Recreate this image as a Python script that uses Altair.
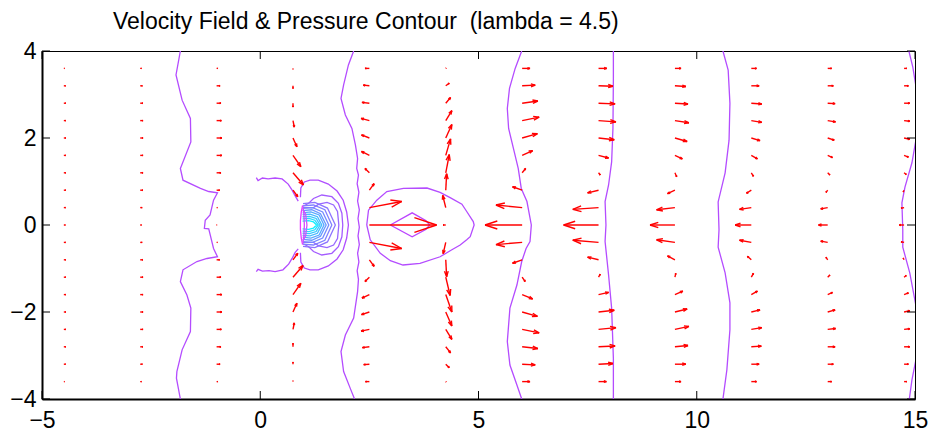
import altair as alt
import pandas as pd

title_text = "Velocity Field & Pressure Contour\u00a0 (lambda = 4.5)"

x_ticks = [-5, 0, 5, 10, 15]
y_ticks = [-4, -2, 0, 2, 4]

# quiver grid
x_cols = [-4.5, -2.75, -1.0, 0.75, 2.5, 4.25, 6.0, 7.75, 9.5, 11.25, 13.0, 14.75]
y_rows = [3.6, 3.2, 2.8, 2.4, 2.0, 1.6, 1.2, 0.8, 0.4, 0.0,
          -0.4, -0.8, -1.2, -1.6, -2.0, -2.4, -2.8, -3.2, -3.6]

u_c01 = [0.02, 0.04, 0.045, 0.045, 0.045, 0.045, 0.045, 0.045, 0.04, 0.035, 0.04, 0.045, 0.045, 0.045, 0.045, 0.045, 0.045, 0.04, 0.02]
v_c01 = [0.0] * 19
u_c02 = [0.03, 0.05, 0.06, 0.065, 0.065, 0.065, 0.065, 0.06, 0.045, 0.03, 0.045, 0.06, 0.065, 0.065, 0.065, 0.065, 0.06, 0.05, 0.03]
v_c02 = [0.0] * 19
u_c03 = [0.03, 0.08, 0.10, 0.11, 0.12, 0.12, 0.10, 0.07, 0.02, 0.01, 0.02, 0.07, 0.10, 0.12, 0.12, 0.11, 0.10, 0.08, 0.03]
v_c03 = [0.0] * 19
u_c04 = [0.0, 0.0, 0.0, 0.03, 0.09, 0.18, 0.24, 0.11, None, None, None, 0.11, 0.23, 0.18, 0.09, 0.03, 0.0, 0.0, 0.0]
v_c04 = [-0.02, -0.06, -0.09, -0.15, -0.20, -0.26, -0.28, -0.15, None, None, None, 0.15, 0.27, 0.26, 0.20, 0.15, 0.08, 0.05, 0.02]
u_c05 = [-0.10, -0.14, -0.17, -0.19, -0.18, -0.18, -0.10, 0.11, 0.74, 1.54, 0.74, 0.11, -0.10, -0.17, -0.18, -0.19, -0.16, -0.13, -0.09]
v_c05 = [0.0, 0.015, 0.02, 0.05, 0.07, 0.09, 0.10, 0.15, 0.14, 0.0, -0.14, -0.15, -0.10, -0.08, -0.06, -0.04, -0.02, -0.01, 0.0]
u_c06 = [0.01, 0.08, 0.11, 0.14, 0.14, 0.11, 0.08, 0.02, -0.07, -0.06, -0.06, 0.02, 0.10, 0.14, 0.14, 0.14, 0.11, 0.08, 0.01]
v_c06 = [0.01, 0.06, 0.13, 0.23, 0.31, 0.38, 0.42, 0.38, 0.28, 0.0, -0.26, -0.39, -0.42, -0.40, -0.32, -0.23, -0.14, -0.08, -0.01]
u_c07 = [0.18, 0.30, 0.36, 0.39, 0.35, 0.24, 0.08, -0.22, -0.60, -0.85, -0.60, -0.22, 0.07, 0.24, 0.35, 0.39, 0.36, 0.30, 0.18]
v_c07 = [0.0, 0.015, 0.05, 0.08, 0.10, 0.11, 0.10, 0.08, 0.06, 0.0, -0.05, -0.08, -0.10, -0.10, -0.10, -0.08, -0.04, -0.015, 0.0]
u_c08 = [0.19, 0.33, 0.38, 0.40, 0.36, 0.23, 0.04, -0.25, -0.59, -0.80, -0.59, -0.25, 0.04, 0.23, 0.36, 0.40, 0.38, 0.33, 0.18]
v_c08 = [0.0, -0.01, -0.015, -0.03, -0.04, -0.06, -0.05, -0.06, -0.04, 0.0, 0.05, 0.06, 0.07, 0.05, 0.04, 0.04, 0.02, 0.015, 0.0]
u_c09 = [0.14, 0.25, 0.30, 0.32, 0.28, 0.17, 0.04, -0.17, -0.42, -0.57, -0.42, -0.17, 0.02, 0.18, 0.28, 0.32, 0.30, 0.25, 0.14]
v_c09 = [0.0, -0.015, -0.02, -0.05, -0.08, -0.08, -0.09, -0.08, -0.05, 0.0, 0.06, 0.09, 0.09, 0.08, 0.07, 0.07, 0.03, 0.0, 0.0]
u_c10 = [0.12, 0.18, 0.24, 0.24, 0.20, 0.14, 0.05, -0.11, -0.27, -0.37, -0.27, -0.09, 0.05, 0.14, 0.20, 0.24, 0.23, 0.18, 0.12]
v_c10 = [0.0, 0.0, -0.02, -0.04, -0.06, -0.08, -0.08, -0.07, -0.04, 0.0, 0.05, 0.08, 0.09, 0.08, 0.05, 0.04, 0.015, 0.0, 0.0]
u_c11 = [0.09, 0.13, 0.17, 0.18, 0.15, 0.11, 0.05, -0.04, -0.16, -0.21, -0.16, -0.04, 0.05, 0.11, 0.17, 0.18, 0.17, 0.13, 0.09]
v_c11 = [0.0, 0.0, -0.01, -0.03, -0.05, -0.05, -0.05, -0.05, -0.03, 0.0, 0.03, 0.06, 0.05, 0.05, 0.05, 0.02, 0.0, 0.0, 0.0]
u_c12 = [0.06, 0.10, 0.13, 0.13, 0.13, 0.10, 0.05, -0.02, -0.07, -0.11, -0.07, -0.02, 0.05, 0.10, 0.13, 0.13, 0.13, 0.10, 0.06]
v_c12 = [0.0, 0.0, 0.0, -0.015, -0.03, -0.04, -0.04, -0.04, -0.015, 0.0, 0.015, 0.04, 0.04, 0.04, 0.03, 0.015, 0.0, 0.0, 0.0]

u_cols = [u_c01, u_c02, u_c03, u_c04, u_c05, u_c06, u_c07, u_c08, u_c09, u_c10, u_c11, u_c12]
v_cols = [v_c01, v_c02, v_c03, v_c04, v_c05, v_c06, v_c07, v_c08, v_c09, v_c10, v_c11, v_c12]

# pressure contour lines (x, y)
ct_a = [(-1.83, 4.0), (-1.93, 3.45), (-1.79, 2.87), (-1.60, 2.45), (-1.59, 1.91), (-1.83, 1.30), (-1.77, 1.03),
        (-1.37, 0.84), (-1.18, 0.77), (-0.98, 0.74), (-1.07, 0.57), (-1.15, 0.23), (-1.26, 0.11), (-1.28, -0.08),
        (-1.18, -0.09), (-1.07, -0.54), (-0.98, -0.73), (-1.22, -0.77), (-1.45, -0.84), (-1.77, -1.03), (-1.83, -1.30),
        (-1.68, -1.61), (-1.59, -1.91), (-1.60, -2.45), (-1.79, -2.87), (-1.91, -3.37), (-1.92, -3.52), (-1.83, -4.0)]
ct_b = [(2.14, 4.0), (2.02, 3.68), (1.91, 3.22), (1.85, 2.91), (1.95, 2.53), (2.10, 2.22), (2.18, 1.84), (2.23, 1.53),
        (2.21, 1.30), (2.25, 1.15), (2.22, 0.95), (2.26, 0.75), (2.23, 0.55), (2.27, 0.35), (2.24, 0.15), (2.27, -0.05),
        (2.24, -0.25), (2.27, -0.45), (2.23, -0.65), (2.26, -0.85), (2.22, -1.05), (2.25, -1.25), (2.23, -1.53),
        (2.14, -2.14), (1.95, -2.53), (1.85, -2.91), (1.91, -3.37), (2.06, -3.75), (2.16, -4.0)]
ct_c = [(5.99, 4.0), (5.84, 3.60), (5.71, 3.14), (5.66, 2.68), (5.69, 2.22), (5.80, 1.76), (5.91, 1.30), (5.98, 0.84),
        (6.11, 0.54), (6.21, 0.0), (6.18, -0.38), (6.09, -0.54), (5.99, -0.84), (5.88, -1.38), (5.72, -1.91),
        (5.66, -2.68), (5.72, -3.22), (5.88, -3.68), (5.99, -4.0)]
ct_d = [(8.09, 4.0), (8.09, 3.37), (8.08, 2.22), (8.05, 1.45), (7.98, 0.92), (7.90, 0.54), (7.92, 0.0),
        (7.90, -0.38), (7.98, -1.15), (8.05, -1.91), (8.09, -3.06), (8.09, -4.0)]
ct_e = [(10.60, 4.0), (10.72, 3.56), (10.76, 2.80), (10.74, 1.95), (10.65, 1.20), (10.49, 0.53), (10.51, -0.11),
        (10.49, -0.51), (10.65, -1.10), (10.76, -1.79), (10.76, -2.41), (10.69, -3.33), (10.60, -4.0)]
ct_f1 = [(14.86, 4.0), (14.95, 3.63), (15.02, 3.2)]
ct_f2 = [(15.02, 1.95), (14.93, 1.43), (14.77, 0.87), (14.70, 0.51), (14.72, -0.11), (14.72, -0.51), (14.88, -1.10), (15.02, -1.85)]
ct_f3 = [(15.02, -3.1), (14.93, -3.56), (14.87, -4.0)]
ct_hook_top = [(-0.09, 1.09), (-0.05, 1.02), (0.05, 1.08), (0.18, 1.06), (0.34, 1.08), (0.50, 1.06), (0.64, 0.94),
               (0.73, 0.80), (0.80, 0.67), (0.87, 0.55)]
ct_hook_bot = [(-0.09, -1.07), (-0.05, -1.02), (0.05, -1.06), (0.20, -1.05), (0.34, -1.07), (0.52, -1.03), (0.65, -0.90),
               (0.74, -0.75), (0.80, -0.63), (0.87, -0.55)]
ct_ring1 = [(0.92, 0.64), (0.93, 0.85), (1.01, 0.99), (1.14, 1.03), (1.33, 1.03), (1.56, 0.94), (1.76, 0.78), (1.90, 0.57),
            (1.98, 0.30), (2.02, 0.0), (1.98, -0.30), (1.90, -0.57), (1.76, -0.78), (1.56, -0.94), (1.33, -1.03),
            (1.14, -1.03), (1.01, -0.99), (0.93, -0.85), (0.92, -0.64)]
ct_ring2 = [(0.98, 0.43), (1.11, 0.50), (1.22, 0.61), (1.41, 0.69), (1.64, 0.65), (1.79, 0.50), (1.87, 0.27), (1.89, 0.0),
            (1.87, -0.27), (1.79, -0.50), (1.64, -0.65), (1.41, -0.69), (1.22, -0.61), (1.11, -0.50), (0.98, -0.43)]
ct_ring3 = [(0.98, 0.40), (1.22, 0.40), (1.34, 0.48), (1.53, 0.52), (1.68, 0.46), (1.77, 0.31), (1.80, 0.0),
            (1.77, -0.31), (1.68, -0.46), (1.53, -0.52), (1.34, -0.48), (1.22, -0.40), (0.98, -0.40)]
ct_k1 = [(0.98, 0.49), (1.25, 0.52), (1.54, 0.39), (1.72, 0.0), (1.54, -0.39), (1.25, -0.52), (0.98, -0.49)]
ct_k2 = [(0.98, 0.44), (1.22, 0.46), (1.48, 0.35), (1.64, 0.0), (1.48, -0.35), (1.22, -0.46), (0.98, -0.44)]
ct_k3 = [(0.97, 0.38), (1.20, 0.40), (1.43, 0.30), (1.57, 0.0), (1.43, -0.30), (1.20, -0.40), (0.97, -0.38)]
ct_k4 = [(0.97, 0.33), (1.18, 0.35), (1.38, 0.26), (1.51, 0.0), (1.38, -0.26), (1.18, -0.35), (0.97, -0.33)]
ct_k5 = [(0.97, 0.28), (1.16, 0.30), (1.35, 0.23), (1.46, 0.0), (1.35, -0.23), (1.16, -0.30), (0.97, -0.28)]
ct_k6 = [(0.97, 0.24), (1.14, 0.25), (1.31, 0.19), (1.41, 0.0), (1.31, -0.19), (1.14, -0.25), (0.97, -0.24)]
ct_k7 = [(0.97, 0.19), (1.13, 0.20), (1.28, 0.15), (1.37, 0.0), (1.28, -0.15), (1.13, -0.20), (0.97, -0.19)]
ct_k8 = [(0.97, 0.14), (1.12, 0.15), (1.25, 0.11), (1.33, 0.0), (1.25, -0.11), (1.12, -0.15), (0.97, -0.14)]
ct_k9 = [(0.97, 0.09), (1.11, 0.10), (1.22, 0.07), (1.29, 0.0), (1.22, -0.07), (1.11, -0.10), (0.97, -0.09)]
ct_m1 = [(0.97, 0.45), (0.94, 0.30), (0.92, 0.10), (0.92, -0.10), (0.94, -0.30), (0.97, -0.45)]
ct_m2 = [(0.98, 0.40), (1.00, 0.25), (1.01, 0.0), (1.00, -0.25), (0.98, -0.40)]
ct_m3 = [(0.98, 0.36), (1.04, 0.25), (1.07, 0.0), (1.04, -0.25), (0.98, -0.36)]
ct_diamond = [(2.98, 0.0), (3.48, 0.28), (3.80, 0.10), (3.88, 0.0), (3.80, -0.10), (3.48, -0.27), (2.98, 0.0)]
ct_oval = [(2.44, 0.0), (2.48, 0.34), (2.67, 0.57), (2.90, 0.77), (3.28, 0.84), (3.82, 0.85), (4.12, 0.75), (4.35, 0.63),
           (4.62, 0.48), (4.73, 0.31), (4.88, 0.08), (4.90, 0.0), (4.81, -0.27), (4.73, -0.34), (4.58, -0.46),
           (4.39, -0.57), (4.12, -0.73), (3.66, -0.88), (3.27, -0.92), (2.98, -0.82), (2.75, -0.65), (2.52, -0.34), (2.44, 0.0)]

contours = [
    (ct_a, "#b44cff"), (ct_b, "#b44cff"), (ct_c, "#b44cff"), (ct_d, "#b44cff"), (ct_e, "#b44cff"),
    (ct_f1, "#b44cff"), (ct_f2, "#b44cff"), (ct_f3, "#b44cff"),
    (ct_hook_top, "#b44cff"), (ct_hook_bot, "#b44cff"),
    (ct_oval, "#b44cff"), (ct_diamond, "#bb44ff"),
    (ct_ring1, "#b04fff"), (ct_ring2, "#a45cff"), (ct_ring3, "#9868ff"),
    (ct_k1, "#8c74ff"), (ct_k2, "#8080ff"), (ct_k3, "#748cff"), (ct_k4, "#6898ff"), (ct_k5, "#58a8ff"),
    (ct_k6, "#48b8ff"), (ct_k7, "#38c8ff"), (ct_k8, "#28d8ff"), (ct_k9, "#10f0ff"),
    (ct_m1, "#e63cff"), (ct_m2, "#d84aff"), (ct_m3, "#cc55ff"),
]

crow = []
for cid, (pts, col) in enumerate(contours):
    for k, (px, py) in enumerate(pts):
        crow.append({"cid": cid, "ord": k, "x": px, "y": py, "color": col})
cdf = pd.DataFrame(crow)

# quiver arrows (MATLAB style heads)
alpha, beta = 0.33, 0.33
arows = []
for xc, us, vs in zip(x_cols, u_cols, v_cols):
    for yr, u, v in zip(y_rows, us, vs):
        if u is None or v is None:
            continue
        tx, ty = xc + u, yr + v
        arows.append({"x": xc, "y": yr, "x2": tx, "y2": ty})
        arows.append({"x": tx, "y": ty, "x2": tx - alpha * (u + beta * v), "y2": ty - alpha * (v - beta * u)})
        arows.append({"x": tx, "y": ty, "x2": tx - alpha * (u - beta * v), "y2": ty - alpha * (v + beta * u)})
adf = pd.DataFrame(arows)

W, H = 873, 348
xs = alt.Scale(domain=[-5, 15], nice=False, zero=False)
ys = alt.Scale(domain=[-4, 4], nice=False, zero=False)
x_axis = alt.Axis(values=x_ticks, labelPadding=10, title=None)
y_axis = alt.Axis(values=y_ticks, labelPadding=6, title=None)


def X(f):
    return alt.X(f, type="quantitative", scale=xs, axis=x_axis)


def Y(f):
    return alt.Y(f, type="quantitative", scale=ys, axis=y_axis)


lines = alt.Chart(cdf).mark_line(strokeWidth=1.3, clip=True).encode(
    x=X("x"), y=Y("y"), detail="cid:N", order="ord:Q",
    color=alt.Color("color:N", scale=None),
)

arrows = alt.Chart(adf).mark_rule(color="#ff0000", strokeWidth=1.4, clip=True).encode(
    x=X("x"), y=Y("y"), x2="x2:Q", y2="y2:Q"
)

xt = pd.DataFrame({"t": x_ticks})
yt = pd.DataFrame({"t": y_ticks})
tick_b = alt.Chart(xt).mark_rule(color="black", strokeWidth=1).encode(x=X("t"), y=alt.value(H), y2=alt.value(H - 8))
tick_t = alt.Chart(xt).mark_rule(color="black", strokeWidth=1).encode(x=X("t"), y=alt.value(0), y2=alt.value(8))
tick_l = alt.Chart(yt).mark_rule(color="black", strokeWidth=1).encode(y=Y("t"), x=alt.value(0), x2=alt.value(8))
tick_r = alt.Chart(yt).mark_rule(color="black", strokeWidth=1).encode(y=Y("t"), x=alt.value(W), x2=alt.value(W - 8))

title = alt.Chart(pd.DataFrame({"t": [title_text]})).mark_text(
    align="left", baseline="alphabetic", fontSize=23, font="Liberation Sans", color="black"
).encode(text="t:N", x=alt.value(71), y=alt.value(-22.5))

chart = alt.layer(lines, arrows, tick_b, tick_t, tick_l, tick_r, title).properties(
    width=W, height=H,
    padding={"left": 42, "top": 51, "right": 18, "bottom": 36},
    autosize=alt.AutoSizeParams(type="none"),
    background="white",
).configure_view(
    stroke="black", strokeWidth=1
).configure_axis(
    grid=False, ticks=False, tickSize=0, domainColor="black", domainWidth=2,
    labelColor="black", labelFont="Liberation Sans", labelFontSize=23,
    labelFlush=False, labelOverlap=False, labelBound=False,
)

chart.save("out.html", embed_options={"renderer": "svg", "actions": False})
